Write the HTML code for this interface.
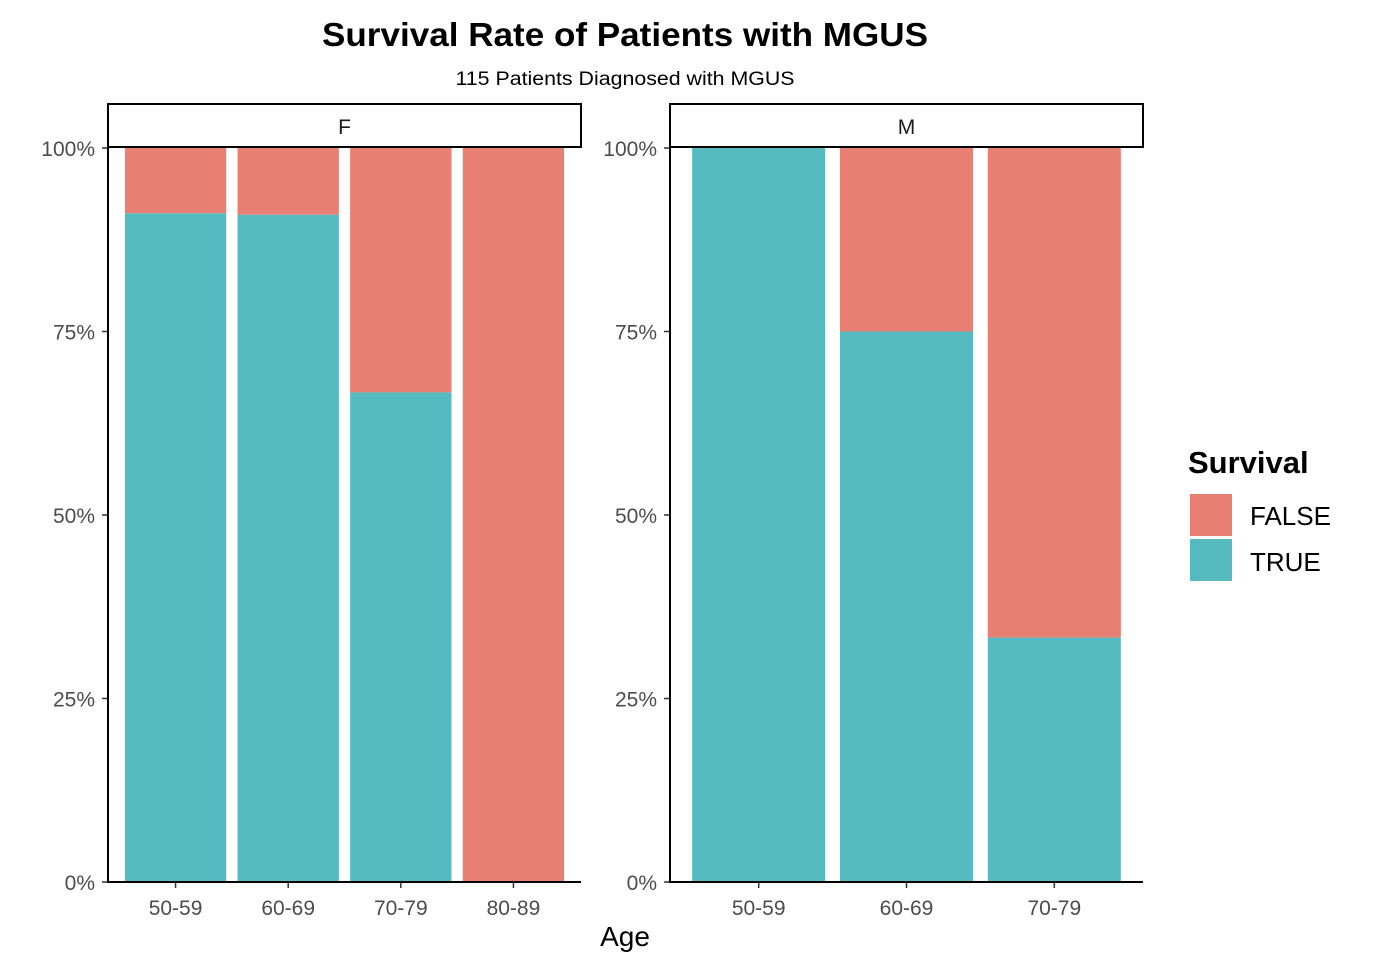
<!DOCTYPE html>
<html><head><meta charset="utf-8"><style>
body{margin:0;background:#fff;}
svg text{font-family:"Liberation Sans",Arial,sans-serif;}
</style></head><body>
<svg id="chart" width="1380" height="966" xmlns="http://www.w3.org/2000/svg">
<text x="625" y="46" text-anchor="middle" font-size="33" font-weight="bold" fill="#000" textLength="606" lengthAdjust="spacingAndGlyphs">Survival Rate of Patients with MGUS</text>
<text x="625" y="85" text-anchor="middle" font-size="19" fill="#000" textLength="339" lengthAdjust="spacingAndGlyphs">115 Patients Diagnosed with MGUS</text>
<text x="625" y="946" text-anchor="middle" font-size="28" fill="#000">Age</text>
<g id="panels"></g>
<g>
<text x="1188" y="473" font-size="31" font-weight="bold" fill="#000">Survival</text>
<rect x="1190" y="494" width="42" height="42" fill="#E87F73"/>
<text x="1250" y="525" font-size="26" fill="#000">FALSE</text>
<rect x="1190" y="539" width="42" height="42" fill="#56BBC1"/>
<text x="1250" y="571" font-size="26" fill="#000">TRUE</text>
</g>
</svg>
<script>
const facets = ["F","M"];
const catsF = ["50-59","60-69","70-79","80-89"];
const trueF = [0.911, 0.909, 0.667, 0];
const catsM = ["50-59","60-69","70-79"];
const trueM = [1, 0.75, 0.333];
const yTicks = [0, 0.25, 0.5, 0.75, 1];
const yTickLabels = ["0%","25%","50%","75%","100%"];

const NS="http://www.w3.org/2000/svg";
const g=document.getElementById('panels');
function mk(tag,attrs,parent){const e=document.createElementNS(NS,tag);for(const k in attrs)e.setAttribute(k,attrs[k]);(parent||g).appendChild(e);return e;}
const y0=882,y1=148;
function yScale(v){return y0-(y0-y1)*v;}
const panelX=[108,670], panelW=473;
const data=[[catsF,trueF],[catsM,trueM]];
facets.forEach((f,pi)=>{
  const [cats,vals]=data[pi];
  const left=panelX[pi];
  const unit=panelW/(cats.length-1+1.2);
  function xScale(i){return left+unit*(i+0.6);}
  const strip=mk('rect',{x:left,y:104,width:panelW,height:43,fill:'#fff',stroke:'#000','stroke-width':2});
  
  
  const st=mk('text',{x:left+panelW/2,y:134,'text-anchor':'middle','font-size':21,fill:'#1a1a1a'});
  st.textContent=f;
  
  
  cats.forEach((c,i)=>{
    const bw=unit*0.9, cx=xScale(i);
    const rf=mk('rect',{x:cx-bw/2,y:yScale(1),width:bw,height:yScale(vals[i])-yScale(1),fill:'#E87F73'});
    
    
    const rt=mk('rect',{x:cx-bw/2,y:yScale(vals[i]),width:bw,height:y0-yScale(vals[i]),fill:'#56BBC1'});
    
    
    mk('line',{x1:cx,x2:cx,y1:y0,y2:y0+6,stroke:'#333','stroke-width':1.5});
    const t=mk('text',{x:cx,y:915,'text-anchor':'middle','font-size':21,fill:'#4d4d4d'});
    t.textContent=c;
    
    
  });
  yTicks.forEach((v,i)=>{
    mk('line',{x1:left-6,x2:left,y1:yScale(v),y2:yScale(v),stroke:'#333','stroke-width':1.5});
    const t=mk('text',{x:left-13,y:yScale(v)+8,'text-anchor':'end','font-size':21,fill:'#4d4d4d'});
    t.textContent=yTickLabels[i];
    
    
  });
  const ax=mk('path',{d:`M${left},${y1-2}V${y0}H${left+panelW}`,fill:'none',stroke:'#000','stroke-width':2});
  
  
});
</script>
</body></html>
